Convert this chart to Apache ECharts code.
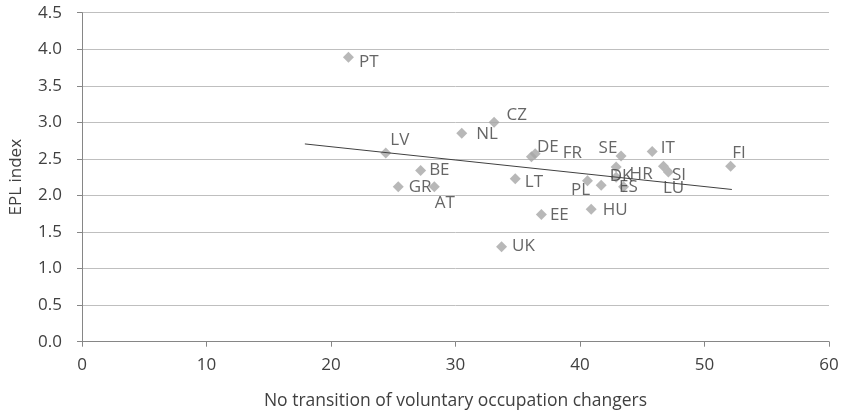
<!DOCTYPE html>
<html>
<head>
<meta charset="utf-8">
<script src="https://cdn.jsdelivr.net/npm/echarts@6/dist/echarts.min.js"></script>
<style>html,body{margin:0;padding:0;background:#fff}#c{width:845px;height:416px}</style>
</head>
<body>
<div id="c"></div>
<script>
// Data
var countries = ['PT','LV','BE','GR','AT','NL','CZ','DE','FR','LT','PL','EE','HU','UK','SE','IT','FI','LU','SI','DK','','HR','ES'];
var noTransition = [21.4,24.4,27.2,25.4,28.3,30.5,33.1,36.1,36.4,34.8,40.6,36.9,40.9,33.7,43.3,45.8,52.1,46.7,47.1,41.7,42.9,42.9,43.5];
var eplIndex =     [3.89,2.58,2.34,2.12,2.12,2.85,3.00,2.53,2.57,2.23,2.20,1.74,1.81,1.30,2.54,2.60,2.40,2.40,2.32,2.14,2.25,2.39,2.12];
var trendX = [17.9, 52.2];
var trendY = [2.705, 2.082];
var xTicks = [0,10,20,30,40,50,60];
var yTicks = ['0.0','0.5','1.0','1.5','2.0','2.5','3.0','3.5','4.0','4.5'];

// label placement (style only)
var labelOffsets = [[0,5],[-6,-13],[-2,0],[0,0],[-10,16],[4,1],[2,-7],[-5,-10],[17,-1],[-1,3],[-27,9],[-2,1],[1,1],[0,0],[-33,-8],[-2,-3],[-9,-13],[-11,22],[-7,3],[-2,-9],[0,0],[3,7],[-15,0]];

var pts = countries.map(function(c,i){
  return {name:c, value:[noTransition[i], eplIndex[i]]};
});
var trend = trendX.map(function(x,i){return [x, trendY[i]];});

var font = 'Open Sans';
var fs = 17;
var chart = echarts.init(document.getElementById('c'), null, {renderer:'canvas'});
chart.setOption({
  animation:false,
  grid:{left:77, right:16, top:12.7, bottom:74.3, containLabel:false},
  xAxis:{
    type:'value', min:xTicks[0], max:xTicks[xTicks.length-1], interval:10,
    name:'No transition of voluntary occupation changers', nameLocation:'middle', nameGap:50,
    nameTextStyle:{fontFamily:font, fontSize:17.5, color:'#404040'},
    axisLine:{show:true, lineStyle:{color:'#868686', width:1}},
    axisTick:{show:true, length:5, lineStyle:{color:'#868686'}},
    axisLabel:{fontFamily:font, fontSize:fs, color:'#404040', margin:15},
    splitLine:{show:false}
  },
  yAxis:{
    type:'value', min:0, max:4.5, interval:0.5,
    name:'EPL index', nameLocation:'middle', nameGap:57,
    nameTextStyle:{fontFamily:font, fontSize:fs, color:'#404040'},
    axisLine:{show:true, lineStyle:{color:'#868686', width:1}},
    axisTick:{show:true, length:5, lineStyle:{color:'#868686'}},
    axisLabel:{fontFamily:font, fontSize:fs, color:'#404040', margin:20,
      formatter:function(v){return v.toFixed(1);}},
    splitLine:{show:true, lineStyle:{color:'#BFBFBF', width:1}}
  },
  series:[
    {
      type:'line', data:trend, symbol:'none', silent:true,
      lineStyle:{color:'#404040', width:1}, z:3
    },
    {
      type:'scatter', data:pts, symbol:'diamond', symbolSize:11,
      itemStyle:{color:'#A6A6A6'}, z:2,
      label:{show:true, position:'right', distance:5, formatter:'{b}',
        fontFamily:font, fontSize:fs, color:'#404040', align:'left', verticalAlign:'middle'},
      labelLayout:function(p){
        var o = labelOffsets[p.dataIndex] || [0,0];
        return {dx:o[0], dy:o[1], hideOverlap:false};
      }
    }
  ]
});
</script>
</body>
</html>
